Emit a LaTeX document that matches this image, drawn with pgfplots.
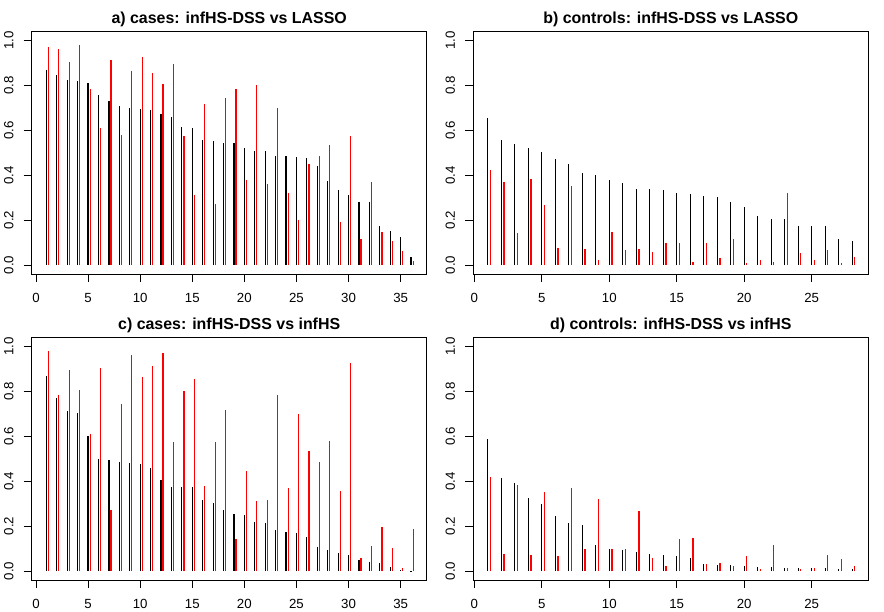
\documentclass[border=0pt]{standalone}
\usepackage{fontspec}
\setmainfont{Liberation Sans}
\usepackage{pgfplots}
\usepackage{pgfplotstable}
\pgfplotsset{compat=1.18}

\pgfplotstableread{
i b r
1 0.870 0.972
2 0.847 0.963
3 0.825 0.907
4 0.822 0.981
5 0.812 0.785
6 0.759 0.612
7 0.732 0.914
8 0.710 0.581
9 0.701 0.865
10 0.696 0.927
11 0.692 0.856
12 0.674 0.807
13 0.661 0.896
14 0.616 0.576
15 0.612 0.314
16 0.559 0.719
17 0.554 0.274
18 0.544 0.745
19 0.544 0.785
20 0.523 0.381
21 0.510 0.803
22 0.510 0.359
23 0.487 0.702
24 0.487 0.319
25 0.483 0.199
26 0.479 0.449
27 0.443 0.487
28 0.376 0.536
29 0.336 0.190
30 0.314 0.576
31 0.279 0.114
32 0.279 0.372
33 0.176 0.145
34 0.150 0.105
35 0.123 0.061
36 0.034 0.016
}\tabA

\pgfplotstableread{
i b r
1 0.655 0.422
2 0.558 0.371
3 0.540 0.141
4 0.522 0.385
5 0.504 0.269
6 0.473 0.074
7 0.451 0.354
8 0.411 0.070
9 0.402 0.021
10 0.380 0.145
11 0.367 0.065
12 0.340 0.070
13 0.340 0.056
14 0.336 0.096
15 0.322 0.096
16 0.318 0.012
17 0.309 0.096
18 0.305 0.030
19 0.283 0.114
20 0.260 0.007
21 0.220 0.021
22 0.203 0.012
23 0.203 0.322
24 0.176 0.052
25 0.172 0.021
26 0.172 0.065
27 0.114 0.007
28 0.109 0.034
}\tabB

\pgfplotstableread{
i b r
1 0.868 0.979
2 0.770 0.784
3 0.713 0.895
4 0.704 0.806
5 0.601 0.610
6 0.499 0.904
7 0.495 0.273
8 0.486 0.744
9 0.481 0.961
10 0.477 0.864
11 0.459 0.913
12 0.406 0.970
13 0.375 0.575
14 0.375 0.801
15 0.375 0.855
16 0.317 0.379
17 0.304 0.575
18 0.273 0.717
19 0.255 0.144
20 0.250 0.446
21 0.219 0.313
22 0.215 0.317
23 0.184 0.784
24 0.175 0.370
25 0.170 0.699
26 0.153 0.535
27 0.108 0.486
28 0.095 0.579
29 0.081 0.357
30 0.073 0.926
31 0.050 0.059
32 0.041 0.113
33 0.037 0.197
34 0.019 0.104
35 0.006 0.015
36 0.002 0.188
}\tabC

\pgfplotstableread{
i b r
1 0.589 0.420
2 0.416 0.074
3 0.393 0.385
4 0.327 0.070
5 0.300 0.354
6 0.247 0.065
7 0.216 0.371
8 0.207 0.096
9 0.114 0.322
10 0.096 0.096
11 0.092 0.096
12 0.087 0.269
13 0.078 0.056
14 0.070 0.021
15 0.065 0.141
16 0.056 0.145
17 0.030 0.030
18 0.025 0.034
19 0.025 0.021
20 0.021 0.065
21 0.016 0.007
22 0.016 0.114
23 0.012 0.012
24 0.012 0.007
25 0.012 0.012
26 0.012 0.070
27 0.007 0.052
28 0.007 0.021
}\tabD

\pgfplotsset{
  rpanel/.style={
    scale only axis, width=395bp, height=242.3bp,
    anchor=south west,
    ymin=-0.04, ymax=1.04,
    ytick={0,0.2,0.4,0.6,0.8,1},
    tick pos=left, tick align=outside, major tick length=8bp,
    axis line style={line width=0.9bp},
    every tick/.style={black, line width=0.9bp},
    /pgf/number format/assume math mode=true,
    ticklabel style={font=\fontsize{13.3}{13.3}\selectfont},
    yticklabel style={xshift=-10.4bp, rotate=90, anchor=base,
      /pgf/number format/.cd, fixed, fixed zerofill, precision=1},
    xticklabel style={anchor=base, yshift=-20.2bp},
    every axis title shift=0pt,
    title style={font=\bfseries\fontsize{16}{16}\selectfont, anchor=base, yshift=8.3bp},
  },
  bk/.style={ycomb, black, line width=1.2bp},
  rd/.style={ycomb, red, line width=1.2bp},
}

\begin{document}
\begin{tikzpicture}
\useasboundingbox (0,0) rectangle (884bp,612bp);
\begin{axis}[rpanel, at={(31.7bp,338bp)}, xmin=-0.41, xmax=37.5,
  xtick={0,5,10,15,20,25,30,35}, title={a) cases: infHS-DSS vs LASSO}]
\addplot[bk] table[x=i, y=b] {\tabA};
\addplot[rd] table[x expr=\thisrow{i}+0.2, y=r] {\tabA};
\end{axis}
\begin{axis}[rpanel, at={(473.3bp,338bp)}, xmin=-0.08, xmax=29.2,
  xtick={0,5,10,15,20,25}, title={b) controls: infHS-DSS vs LASSO}]
\addplot[bk] table[x=i, y=b] {\tabB};
\addplot[rd] table[x expr=\thisrow{i}+0.2, y=r] {\tabB};
\end{axis}
\begin{axis}[rpanel, at={(31.7bp,32bp)}, xmin=-0.41, xmax=37.5,
  xtick={0,5,10,15,20,25,30,35}, title={c) cases: infHS-DSS vs infHS}]
\addplot[bk] table[x=i, y=b] {\tabC};
\addplot[rd] table[x expr=\thisrow{i}+0.2, y=r] {\tabC};
\end{axis}
\begin{axis}[rpanel, at={(473.3bp,32bp)}, xmin=-0.08, xmax=29.2,
  xtick={0,5,10,15,20,25}, title={d) controls: infHS-DSS vs infHS}]
\addplot[bk] table[x=i, y=b] {\tabD};
\addplot[rd] table[x expr=\thisrow{i}+0.2, y=r] {\tabD};
\end{axis}
\end{tikzpicture}
\end{document}
